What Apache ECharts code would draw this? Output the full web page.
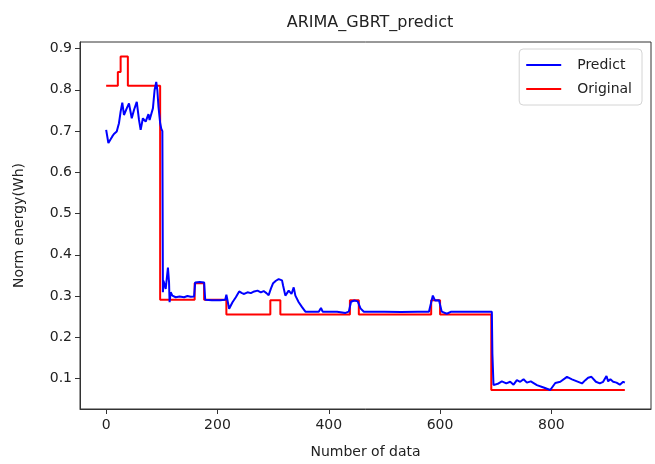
<!DOCTYPE html>
<html>
<head>
<meta charset="utf-8">
<script src="https://cdn.jsdelivr.net/npm/echarts@6/dist/echarts.min.js"></script>
<style>
  html, body { margin: 0; padding: 0; background: #fff; }
  #chart { width: 655px; height: 464px; }
</style>
</head>
<body>
<div id="chart"></div>
<script>
// Predicted normalised energy: sample index and value
const predictX = [0, 4, 8, 11, 14, 19, 23, 26, 29, 32, 37, 41, 46, 50, 55, 59, 62, 66, 71, 76, 78, 84, 87, 90, 92, 94, 97, 99, 101, 102,
  103, 107, 111, 113, 114, 116, 119, 125, 132, 140, 146, 152, 158, 160, 168, 176, 178, 190, 205, 214, 216, 221, 227, 233, 239,
  244, 248, 254, 260, 266, 272, 278, 283, 288, 292, 296, 300, 305, 310, 313, 316, 318, 322, 328, 333, 337, 340, 346, 352, 358,
  370, 382, 386, 389, 400, 415, 430, 436, 440, 446, 452, 457, 463, 480, 500, 530, 560, 580, 587, 591, 598, 603, 612, 620, 650,
  680, 693, 694, 696, 705, 711, 719, 726, 732, 738, 744, 750, 756, 763, 774, 786, 798, 807, 816, 828, 837, 846, 855, 861, 866,
  872, 880, 887, 893, 899, 902, 906, 911, 917, 923, 929, 932];
const predictY = [0.703, 0.671, 0.680, 0.687, 0.693, 0.699, 0.719, 0.747, 0.769, 0.739, 0.755, 0.767, 0.731, 0.751, 0.771, 0.727, 0.703, 0.731, 0.723, 0.741, 0.727, 0.755, 0.799, 0.819, 0.799, 0.759, 0.720, 0.706, 0.700, 0.309,
  0.337, 0.317, 0.369, 0.333, 0.285, 0.309, 0.301, 0.297, 0.299, 0.297, 0.300, 0.298, 0.299, 0.333, 0.334, 0.333, 0.291, 0.290, 0.290, 0.291, 0.303, 0.269, 0.285, 0.297, 0.311,
  0.307, 0.305, 0.309, 0.307, 0.311, 0.313, 0.309, 0.312, 0.307, 0.302, 0.318, 0.331, 0.337, 0.341, 0.345, 0.338, 0.325, 0.301, 0.313, 0.305, 0.321, 0.301, 0.285, 0.273, 0.262,
  0.262, 0.262, 0.271, 0.262, 0.262, 0.262, 0.259, 0.262, 0.286, 0.289, 0.287, 0.270, 0.262, 0.262, 0.262, 0.261, 0.262, 0.262, 0.301, 0.289, 0.290, 0.262, 0.257, 0.262, 0.262,
  0.262, 0.262, 0.160, 0.084, 0.088, 0.093, 0.088, 0.092, 0.085, 0.096, 0.092, 0.098, 0.090, 0.093, 0.084, 0.078, 0.072, 0.089, 0.092, 0.104, 0.098, 0.093, 0.088, 0.096, 0.102,
  0.104, 0.092, 0.088, 0.092, 0.106, 0.093, 0.098, 0.092, 0.090, 0.085, 0.092, 0.090];

// Original (measured) energy: level changes, held until the next index
const originalX = [0, 21, 26, 39, 97, 159, 176, 216, 295, 313, 438, 454, 584, 600, 692, 932];
const originalY = [0.810, 0.843, 0.881, 0.810, 0.291, 0.331, 0.291, 0.255, 0.290, 0.255, 0.290, 0.255, 0.290, 0.255, 0.072, 0.072];

// Tick labels
const xTicks = [0, 200, 400, 600, 800];
const yTicks = [0.1, 0.2, 0.3, 0.4, 0.5, 0.6, 0.7, 0.8, 0.9];

const zip = (xs, ys) => xs.map((x, i) => [x, ys[i]]);

const FONT = 'DejaVu Sans';
const chart = echarts.init(document.getElementById('chart'), null, { renderer: 'canvas' });

chart.setOption({
  animation: false,
  backgroundColor: '#ffffff',
  title: {
    text: 'ARIMA_GBRT_predict',
    left: 365, top: 10, textAlign: 'center',
    textStyle: { fontFamily: FONT, fontSize: 16, fontWeight: 'normal', color: '#222' }
  },
  legend: {
    orient: 'vertical',
    right: 13, top: 49,
    icon: 'rect',
    itemWidth: 35, itemHeight: 2, itemGap: 10,
    padding: [9, 10, 9, 7],
    borderColor: '#d4d4d4', borderWidth: 1, borderRadius: 4,
    backgroundColor: '#fff',
    textStyle: { fontFamily: FONT, fontSize: 14, color: '#222', padding: [0, 0, 0, 11] },
    data: ['Predict', 'Original']
  },
  grid: {
    left: 80, right: 4, top: 42, bottom: 53,
    show: true, borderColor: '#333', borderWidth: 1, backgroundColor: 'transparent'
  },
  xAxis: {
    type: 'value', min: -47, max: 979,
    name: 'Number of data', nameLocation: 'middle', nameGap: 36,
    nameTextStyle: { fontFamily: FONT, fontSize: 14, color: '#222' },
    axisLine: { show: true, onZero: false, lineStyle: { color: '#333', width: 1 } },
    axisTick: { show: true, inside: false, length: 5, lineStyle: { color: '#333' }, customValues: xTicks },
    axisLabel: { fontFamily: FONT, fontSize: 14, color: '#222', margin: 9, customValues: xTicks },
    splitLine: { show: false }
  },
  yAxis: {
    type: 'value', min: 0.026, max: 0.916,
    name: 'Norm energy(Wh)', nameLocation: 'middle', nameGap: 54, nameRotate: 90,
    nameTextStyle: { fontFamily: FONT, fontSize: 14, color: '#222' },
    axisLine: { show: true, onZero: false, lineStyle: { color: '#333', width: 1 } },
    axisTick: { show: true, inside: false, length: 5, lineStyle: { color: '#333' }, customValues: yTicks },
    axisLabel: { fontFamily: FONT, fontSize: 14, color: '#222', margin: 8, customValues: yTicks,
      formatter: v => v.toFixed(1) },
    splitLine: { show: false }
  },
  series: [
    {
      name: 'Predict', type: 'line', data: zip(predictX, predictY),
      symbol: 'none', color: '#0000ff',
      lineStyle: { color: '#0000ff', width: 2 }, z: 3
    },
    {
      name: 'Original', type: 'line', data: zip(originalX, originalY),
      step: 'end', symbol: 'none', color: '#ff0000',
      lineStyle: { color: '#ff0000', width: 2 }, z: 2
    }
  ]
});
</script>
</body>
</html>
